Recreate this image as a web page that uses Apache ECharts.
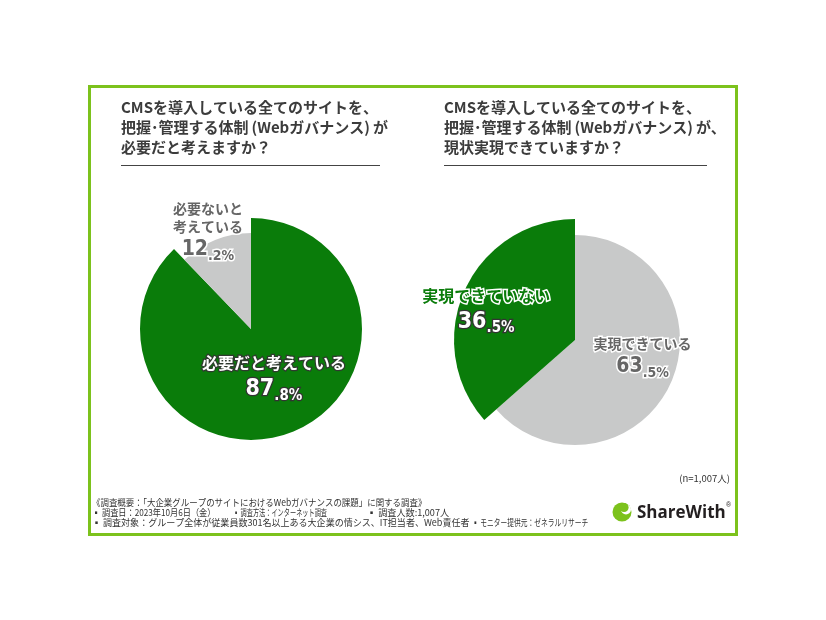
<!DOCTYPE html>
<html>
<head>
<meta charset="utf-8">
<script src="https://cdn.jsdelivr.net/npm/echarts@6/dist/echarts.min.js"></script>
<style>
  html, body { margin: 0; padding: 0; background: #fff; }
  #chart { width: 826px; height: 620px; }
</style>
</head>
<body>
<div id="chart"></div>
<script>
// data
const leftNames = ['必要だと考えている', '必要ないと\n考えている']
const leftValues = [87.8, 12.2]
const rightNames = ['実現できている', '実現できていない']
const rightValues = [63.5, 36.5]
const sampleSize = '(n=1,007人)'

const GREEN = '#0a7c0a'
const GRAY = '#c8c9c9'
const LIME = '#7cc21c'
const FONT = '"Noto Sans CJK JP", "Noto Sans", sans-serif'
const NUMFONT = '"Liberation Sans Narrow", "DejaVu Sans Condensed", "Noto Sans CJK JP", sans-serif'

// label styles: green text / gray text / white outlined
const nameRich = {
  gName: { color: GREEN, fontSize: 16, fontWeight: 'bold', fontFamily: FONT, textBorderColor: '#fff', textBorderWidth: 3, lineHeight: 24 },
  wName: { color: '#fff', fontSize: 16, fontWeight: 'bold', fontFamily: FONT, textBorderColor: '#2f3a2f', textBorderWidth: 2.5, lineHeight: 24 },
  sName: { color: '#666', fontSize: 14, fontWeight: 'bold', fontFamily: FONT, textBorderColor: '#fff', textBorderWidth: 3, lineHeight: 18 },
  wBig: { color: '#fff', fontSize: 23, fontWeight: 'bold', fontFamily: NUMFONT, textBorderColor: '#333', textBorderWidth: 2.5, lineHeight: 28 },
  wSmall: { color: '#fff', fontSize: 15, fontWeight: 'bold', fontFamily: NUMFONT, textBorderColor: '#333', textBorderWidth: 2.5, lineHeight: 28, verticalAlign: 'bottom' },
  sBig: { color: '#666', fontSize: 21, fontWeight: 'bold', fontFamily: NUMFONT, textBorderColor: '#fff', textBorderWidth: 3, lineHeight: 28 },
  sSmall: { color: '#666', fontSize: 14, fontWeight: 'bold', fontFamily: NUMFONT, textBorderColor: '#fff', textBorderWidth: 3, lineHeight: 28, verticalAlign: 'bottom' }
}

function labelText (name, value, nameStyle, bigStyle, smallStyle) {
  let parts = value.toFixed(1).split('.')
  let lines = name.split('\n').map(l => '{' + nameStyle + '|' + l + '}')
  lines.push('{' + bigStyle + '|' + parts[0] + '}{' + smallStyle + '|.' + parts[1] + '%}')
  return lines.join('\n')
}

const hidden = {
  itemStyle: { color: 'rgba(0,0,0,0)' },
  label: { show: false },
  emphasis: { disabled: true }
}

// one pie = two series with different radius; each series shows one slice
function pieSeries (center, radius, names, values, showIndex, color, labelStyles, shift) {
  return {
    type: 'pie',
    center: center,
    radius: [0, radius],
    startAngle: 90,
    clockwise: true,
    silent: true,
    animation: false,
    label: { show: true, position: 'inside', rich: nameRich },
    labelLine: { show: false },
    labelLayout: { dx: shift[0], dy: shift[1] },
    data: values.map((v, i) => {
      if (i !== showIndex) return Object.assign({ name: names[i], value: v }, hidden)
      return {
        name: names[i],
        value: v,
        itemStyle: { color: color, borderWidth: 0 },
        label: {
          formatter: labelText(names[i], v, labelStyles[0], labelStyles[1], labelStyles[2])
        }
      }
    })
  }
}

const chart = echarts.init(document.getElementById('chart'), null, { renderer: 'canvas' })

const titleStyle = { color: '#3c3c3c', fontSize: 15, fontWeight: 'bold', fontFamily: FONT, lineHeight: 20 }

function note (x, y, text, sx) {
  return {
    type: 'text', x: x, y: y, scaleX: sx,
    style: { text: text, fill: '#333', font: '9.5px ' + FONT, textVerticalAlign: 'middle' }
  }
}

const option = {
  backgroundColor: '#fff',
  title: [
    { text: 'CMSを導入している全てのサイトを、\n把握･管理する体制\u2009(Webガバナンス)\u2009が\n必要だと考えますか？', left: 121, top: 97, padding: 0, textStyle: titleStyle },
    { text: 'CMSを導入している全てのサイトを、\n把握･管理する体制\u2009(Webガバナンス)\u2009が、\n現状実現できていますか？', left: 444, top: 97, padding: 0, textStyle: titleStyle }
  ],
  graphic: [
    { type: 'rect', shape: { x: 89.5, y: 86.5, width: 647, height: 448 }, style: { fill: 'none', stroke: LIME, lineWidth: 3 } },
    { type: 'line', shape: { x1: 121, y1: 165.5, x2: 380, y2: 165.5 }, style: { stroke: '#444', lineWidth: 1 } },
    { type: 'line', shape: { x1: 444, y1: 165.5, x2: 707, y2: 165.5 }, style: { stroke: '#444', lineWidth: 1 } },
    { type: 'text', x: 730, y: 478, style: { text: sampleSize, fill: '#333', font: '9.5px ' + FONT, textAlign: 'right', textVerticalAlign: 'middle' } },
    note(92, 502, '《調査概要：「大企業グループのサイトにおけるWebガバナンスの課題」に関する調査》', 0.89),
    note(92, 512, '▪ 調査日：2023年10月6日（金）', 0.86),
    note(233, 512, '▪ 調査方法：インターネット調査', 0.65),
    note(367, 512, '▪ 調査人数:1,007人', 0.96),
    note(92, 522, '▪ 調査対象：グループ全体が従業員数301名以上ある大企業の情シス、IT担当者、Web責任者', 0.95),
    note(472, 522, '▪ モニター提供元：ゼネラルリサーチ', 0.71),
    // logo
    { type: 'circle', shape: { cx: 622, cy: 512, r: 9.5 }, style: { fill: LIME } },
    { type: 'circle', shape: { cx: 626, cy: 509.5, r: 5 }, style: { fill: '#fff' } },
    { type: 'circle', shape: { cx: 624, cy: 507.5, r: 4.6 }, style: { fill: LIME } },
    { type: 'text', x: 637, y: 513, style: { text: 'ShareWith', fill: '#231f20', font: 'bold 17px "Open Sans", "Liberation Sans", sans-serif', textVerticalAlign: 'middle' } },
    { type: 'text', x: 726, y: 505, style: { text: '®', fill: '#231f20', font: '7px "Liberation Sans", sans-serif', textVerticalAlign: 'middle' } }
  ],
  series: [
    pieSeries([251, 329], 111, leftNames, leftValues, 0, GREEN, ['wName', 'wBig', 'wSmall'], [1, -6]),
    pieSeries([251, 329], 96, leftNames, leftValues, 1, GRAY, ['sName', 'sBig', 'sSmall'], [-24, -50]),
    pieSeries([575, 340], 105, rightNames, rightValues, 0, GRAY, ['sName', 'sBig', 'sSmall'], [17, -5]),
    pieSeries([575, 340], 121, rightNames, rightValues, 1, GREEN, ['gName', 'wBig', 'wSmall'], [-31, -4])
  ]
}

chart.setOption(option)
</script>
</body>
</html>
